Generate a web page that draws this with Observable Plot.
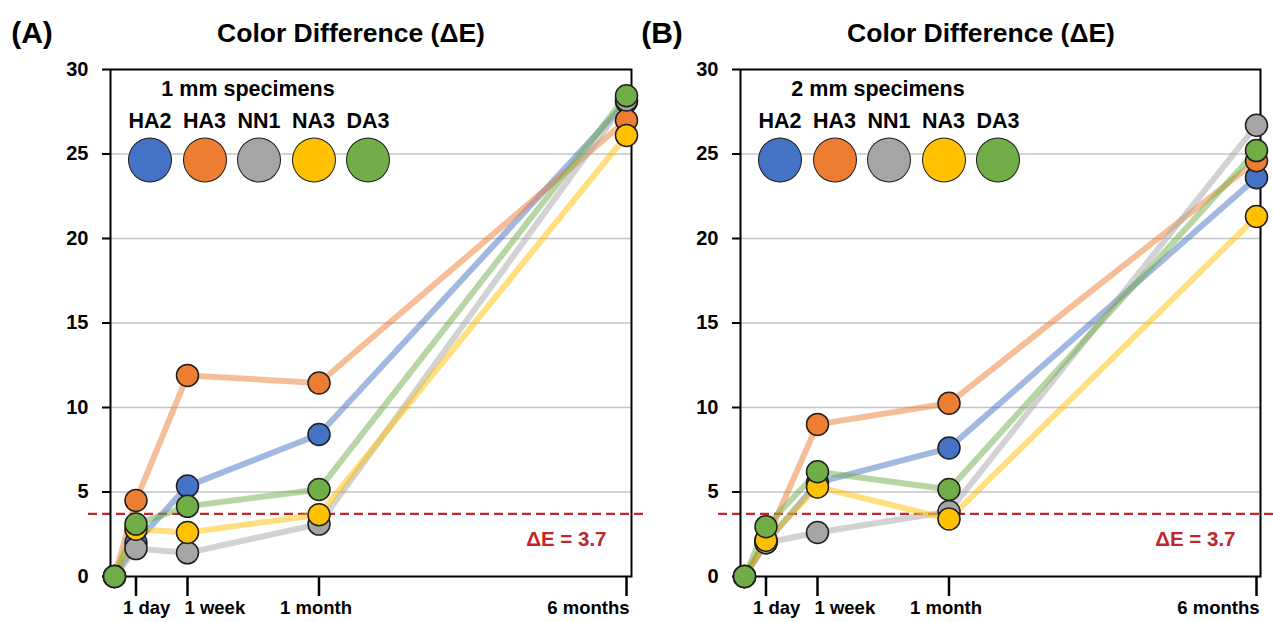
<!DOCTYPE html>
<html>
<head>
<meta charset="utf-8">
<script src="https://cdn.jsdelivr.net/npm/d3@7"></script>
<script src="https://cdn.jsdelivr.net/npm/@observablehq/plot@0.6"></script>
<style>
  html, body { margin: 0; padding: 0; background: #fff; }
  #root { position: relative; width: 1273px; height: 622px; overflow: hidden;
          font-family: "Liberation Sans", Arial, sans-serif; font-weight: bold; color: #000; }
  .panel { position: absolute; top: 0; }
  .lbl { position: absolute; transform: translate(-50%, -50%); white-space: nowrap; }
  .sw { position: absolute; transform: translate(-50%, -50%); border-radius: 50%;
        border: 1.6px solid #1a1a1a; box-sizing: border-box; }
</style>
</head>
<body>
<div id="root"></div>
<script>
// ---------- data ----------
const timeDays = [0, 1, 7, 30, 180];
const tickDays = [1, 7, 30, 180];
const tickLabels = ["1 day", "1 week", "1 month", "6 months"];
const seriesNames = ["HA2", "HA3", "NN1", "NA3", "DA3"];
const seriesColors = ["#4472C4", "#ED7D31", "#A5A5A5", "#FFC000", "#70AD47"];
const yTicks = [0, 5, 10, 15, 20, 25, 30];
const gridTicks = [5, 10, 15, 20, 25];
const threshold = 3.7;
const thresholdLabel = "ΔE = 3.7";
const chartTitle = "Color Difference (ΔE)";

// Panel A: 1 mm specimens
const a_HA2 = [0, 2.0, 5.35, 8.4, 28.1];
const a_HA3 = [0, 4.5, 11.9, 11.45, 27.0];
const a_NN1 = [0, 1.65, 1.4, 3.1, 28.2];
const a_NA3 = [0, 2.8, 2.6, 3.65, 26.1];
const a_DA3 = [0, 3.1, 4.15, 5.15, 28.45];

// Panel B: 2 mm specimens
const b_HA2 = [0, 2.0, 5.55, 7.6, 23.6];
const b_HA3 = [0, 2.1, 9.0, 10.25, 24.6];
const b_NN1 = [0, 2.0, 2.6, 3.85, 26.7];
const b_NA3 = [0, 2.15, 5.3, 3.4, 21.3];
const b_DA3 = [0, 2.95, 6.2, 5.15, 25.2];

const panels = [
  { tag: "(A)", subtitle: "1 mm specimens", values: [a_HA2, a_HA3, a_NN1, a_NA3, a_DA3] },
  { tag: "(B)", subtitle: "2 mm specimens", values: [b_HA2, b_HA3, b_NN1, b_NA3, b_DA3] }
];

// ---------- layout (styles only) ----------
const panelLeft = [0, 630];
const panelWidth = [640, 643];
const marginRightP = [9, 13];
const FONT = "'Liberation Sans', Arial, sans-serif";

function long(values) {
  const rows = [];
  seriesNames.forEach((s, i) => {
    values[i].forEach((v, j) => rows.push({ series: s, day: timeDays[j], value: v }));
  });
  return rows;
}

// label placement tweaks (text anchor / offset per x tick label)
const labelAnchor = ["start", "start", "middle", "end"];
const labelDx = [-13, -3, -3, 3];

const root = document.getElementById("root");

panels.forEach((p, k) => {
  const data = long(p.values);
  const ml = 110;
  const xr = [ml + 4, ml + 25.5, ml + 77, ml + 208.5, ml + 516];
  const marks = [
    Plot.gridY(gridTicks, { stroke: "#c4c4c4", strokeOpacity: 1, strokeWidth: 1.6 }),
    Plot.ruleY([threshold], { stroke: "#c0272d", strokeWidth: 2.2, strokeDasharray: "9,5",
                              insetLeft: -22, insetRight: -17 }),
    Plot.frame({ stroke: "#000", strokeWidth: 2 }),
    Plot.axisY({ ticks: yTicks, tickSize: 8, tickPadding: 14, fontSize: 20, fontWeight: "bold",
                 color: "#000", strokeWidth: 2, label: null, tickFormat: d => String(d) }),
    Plot.axisX({ ticks: tickDays, tickSize: 20, tickFormat: () => "", label: null,
                 color: "#000", strokeWidth: 2.5 }),
    ...tickDays.map((d, i) => Plot.text([tickLabels[i]], {
      x: () => d, y: () => 0, text: t => t, dy: 32, dx: labelDx[i], textAnchor: labelAnchor[i],
      fontSize: 18.5, fontWeight: "bold", fill: "#000"
    })),
    Plot.line(data, { x: "day", y: "value", z: "series", stroke: "series",
                      strokeWidth: 6, strokeOpacity: 0.5, strokeLinejoin: "round", curve: "linear" }),
    Plot.dot(data, { x: "day", y: "value", fill: "series", stroke: "#1f1f1f", strokeWidth: 1.5, r: 11 }),
    Plot.text([thresholdLabel], { frameAnchor: "bottom-right", dx: -25, dy: -31, textAnchor: "end",
                                  fill: "#c0272d", fontSize: 20.5, fontWeight: "bold" })
  ];
  const svg = Plot.plot({
    width: panelWidth[k], height: 622,
    marginLeft: ml, marginRight: marginRightP[k], marginTop: 69, marginBottom: 46,
    x: { type: "linear", domain: timeDays, range: xr },
    y: { domain: [0, 30] },
    color: { domain: seriesNames, range: seriesColors },
    style: { background: "transparent", overflow: "visible", fontFamily: FONT },
    marks
  });
  const holder = document.createElement("div");
  holder.className = "panel";
  holder.style.left = panelLeft[k] + "px";
  holder.style.width = panelWidth[k] + "px";
  holder.appendChild(svg);
  root.appendChild(holder);

  const off = panelLeft[k];
  const addLbl = (text, x, y, size, color) => {
    const el = document.createElement("div");
    el.className = "lbl";
    el.textContent = text;
    el.style.left = (off + x) + "px";
    el.style.top = y + "px";
    el.style.fontSize = size + "px";
    if (color) el.style.color = color;
    root.appendChild(el);
  };
  addLbl(p.tag, 32, 33, 30);
  addLbl(chartTitle, 351, 33, 26.5);
  addLbl(p.subtitle, 248, 89, 21.5);
  seriesNames.forEach((s, i) => {
    const cx = 150 + 54.5 * i;
    addLbl(s, cx, 121, 21.5);
    const sw = document.createElement("div");
    sw.className = "sw";
    sw.style.left = (off + cx) + "px";
    sw.style.top = "160px";
    sw.style.width = "44px";
    sw.style.height = "45px";
    sw.style.background = seriesColors[i];
    root.appendChild(sw);
  });
});
</script>
</body>
</html>
